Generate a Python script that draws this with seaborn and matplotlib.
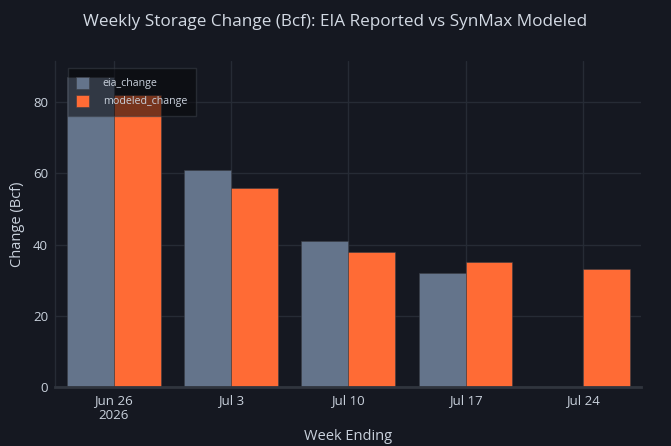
import numpy as np
import pandas as pd
import matplotlib
matplotlib.use("Agg")
import matplotlib.pyplot as plt
import seaborn as sns

#-------------------------------------------------------------------------------
#   chart data
#-------------------------------------------------------------------------------
weeks = ["2026-06-26", "2026-07-03", "2026-07-10", "2026-07-17", "2026-07-24"]
tick_labels = ["Jun 26\n2026", "Jul 3", "Jul 10", "Jul 17", "Jul 24"]
eia_change = [87, 61, 41, 32, np.nan]
modeled_change = [82, 56, 38, 35, 33]
series_names = ["eia_change", "modeled_change"]

bg = "#151821"
grid = "#262b35"
text_col = "#c9d1dc"
colors = {"eia_change": "#64748b", "modeled_change": "#ff6b35"}

df = pd.DataFrame({"week": weeks, "eia_change": eia_change, "modeled_change": modeled_change})
long_df = df.melt(id_vars="week", value_vars=series_names, var_name="series", value_name="change")

sns.set_theme(style="dark")
plt.rcParams["font.family"] = ["Open Sans", "DejaVu Sans"]

fig = plt.figure(figsize=(6.71, 4.46), dpi=100, facecolor=bg)
ax = fig.add_axes([0.082, 0.133, 0.874, 0.730])
ax.set_facecolor(bg)

sns.barplot(data=long_df, x="week", y="change", hue="series", hue_order=series_names,
            palette=colors, order=weeks, width=0.8, saturation=1,
            edgecolor="#3a3d44", linewidth=0.4, ax=ax, zorder=2)

ax.set_xlim(-0.5, len(weeks) - 0.5)
ax.set_ylim(0, 91.6)
ax.set_yticks([0, 20, 40, 60, 80])
ax.set_xticks(range(len(weeks)))
ax.set_xticklabels(tick_labels)

ax.grid(True, color=grid, linewidth=1, zorder=0)
ax.set_axisbelow(True)
for side in ["top", "right"]:
    ax.spines[side].set_visible(False)
ax.spines["left"].set_color(grid)
ax.spines["left"].set_linewidth(1)
ax.spines["bottom"].set_color("#30353e")
ax.spines["bottom"].set_linewidth(2)
ax.spines["bottom"].set_zorder(3)

ax.tick_params(axis="both", colors=text_col, labelsize=9.5, length=0, pad=5)
ax.set_xlabel("Week Ending", color=text_col, fontsize=10.5, labelpad=5)
ax.set_ylabel("Change (Bcf)", color=text_col, fontsize=10.5, labelpad=6)

fig.suptitle("Weekly Storage Change (Bcf): EIA Reported vs SynMax Modeled",
             color="#d3dae4", fontsize=12.3, x=0.5, y=0.951, va="center")

leg = ax.legend(loc="upper left", bbox_to_anchor=(0.022, 0.978), frameon=True,
                fontsize=7.7, handlelength=1.15, handleheight=1.35, borderpad=0.8,
                labelspacing=0.5, handletextpad=1.3, fancybox=False, borderaxespad=0)
leg.get_frame().set_facecolor("#07080b")
leg.get_frame().set_alpha(0.55)
leg.get_frame().set_edgecolor("#3a3f48")
leg.get_frame().set_linewidth(1)
leg.set_title(None)
for t in leg.get_texts():
    t.set_color(text_col)
leg.set_zorder(5)

fig.savefig("out.png", dpi=100, facecolor=bg)
